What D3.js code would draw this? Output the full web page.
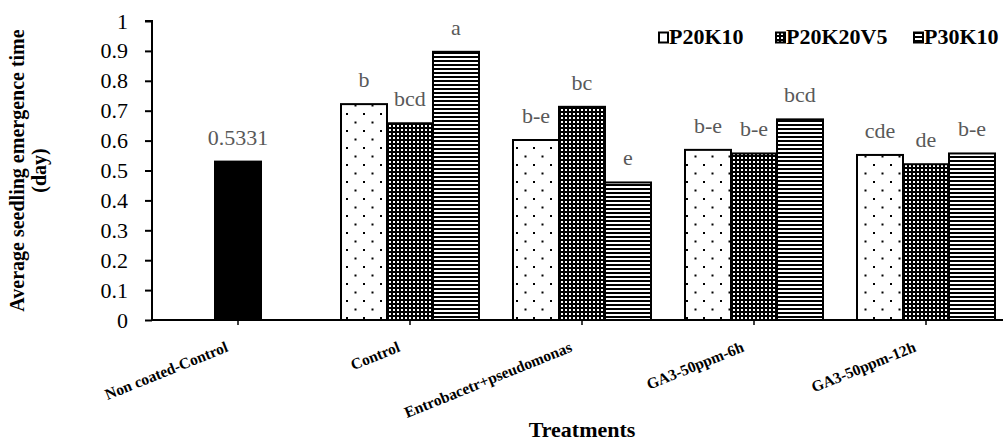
<!DOCTYPE html>
<html>
<head>
<meta charset="utf-8">
<script src="https://cdn.jsdelivr.net/npm/d3@7"></script>
<style>
  html, body { margin: 0; padding: 0; background: #fff; overflow: hidden; }
  svg { display: block; }
  text { font-family: "Liberation Serif", "Times New Roman", serif; }
</style>
</head>
<body>
<svg id="chart" width="1003" height="441"></svg>
<script>
// ---------- DATA ----------
const categories = ["Non coated-Control", "Control", "Entrobacetr+pseudomonas", "GA3-50ppm-6h", "GA3-50ppm-12h"];
const seriesNames = ["P20K10", "P20K20V5", "P30K10"];
const nonCoatedValue = 0.5331;
const nonCoatedLabel = "0.5331";
const p20k10   = [null, 0.722, 0.602, 0.569, 0.552];
const p20k20v5 = [null, 0.658, 0.713, 0.557, 0.521];
const p30k10   = [null, 0.897, 0.460, 0.671, 0.557];
const lettersP20K10   = [null, "b",   "b-e", "b-e", "cde"];
const lettersP20K20V5 = [null, "bcd", "bc",  "b-e", "de"];
const lettersP30K10   = [null, "a",   "e",   "bcd", "b-e"];
const yTicks = [0, 0.1, 0.2, 0.3, 0.4, 0.5, 0.6, 0.7, 0.8, 0.9, 1];
const yTickLabels = ["0", "0.1", "0.2", "0.3", "0.4", "0.5", "0.6", "0.7", "0.8", "0.9", "1"];
const yTitleLines = ["Average seedling emergence time", "(day)"];
const xTitle = "Treatments";

// ---------- LAYOUT ----------
const svg = d3.select("#chart");
const plot = { left: 152, right: 1012, top: 21, bottom: 320 };

const x0 = d3.scaleBand().domain(categories).range([plot.left, plot.right]).paddingInner(0).paddingOuter(0);
const x1 = d3.scaleBand().domain(seriesNames).range([17, x0.bandwidth() - 17]).padding(0);
const y = d3.scaleLinear().domain([0, 1]).range([plot.bottom, plot.top]);

// ---------- PATTERNS ----------
const defs = svg.append("defs");
const pDots = defs.append("pattern").attr("id", "pat-dots")
  .attr("patternUnits", "userSpaceOnUse").attr("width", 17).attr("height", 17);
pDots.append("rect").attr("width", 17).attr("height", 17).attr("fill", "#fff");
pDots.append("rect").attr("x", 6).attr("y", 11).attr("width", 2).attr("height", 2).attr("fill", "#000");
pDots.append("rect").attr("x", 14.5).attr("y", 2.5).attr("width", 2).attr("height", 2).attr("fill", "#000");

const pGrid = defs.append("pattern").attr("id", "pat-grid")
  .attr("patternUnits", "userSpaceOnUse").attr("width", 4).attr("height", 4);
pGrid.append("rect").attr("width", 4).attr("height", 4).attr("fill", "#000");
pGrid.append("rect").attr("x", 1).attr("y", 1).attr("width", 2).attr("height", 2).attr("fill", "#fff");

const pLines = defs.append("pattern").attr("id", "pat-lines")
  .attr("patternUnits", "userSpaceOnUse").attr("width", 4).attr("height", 4);
pLines.append("rect").attr("width", 4).attr("height", 4).attr("fill", "#fff");
pLines.append("rect").attr("y", 0).attr("width", 4).attr("height", 2).attr("fill", "#000");

const fills = { "P20K10": "url(#pat-dots)", "P20K20V5": "url(#pat-grid)", "P30K10": "url(#pat-lines)" };
const legendFills = { "P20K10": "#fff", "P20K20V5": "url(#pat-grid)", "P30K10": "url(#pat-lines)" };

// ---------- BARS ----------
const seriesValues = { "P20K10": p20k10, "P20K20V5": p20k20v5, "P30K10": p30k10 };
const seriesLetters = { "P20K10": lettersP20K10, "P20K20V5": lettersP20K20V5, "P30K10": lettersP30K10 };

const barData = [];
seriesNames.forEach(s => {
  categories.forEach((c, i) => {
    if (seriesValues[s][i] != null) barData.push({ cat: c, series: s, value: seriesValues[s][i], label: seriesLetters[s][i] });
  });
});

const gBars = svg.append("g");
gBars.selectAll("rect.bar").data(barData).enter().append("rect")
  .attr("class", "bar")
  .attr("x", d => x0(d.cat) + x1(d.series))
  .attr("y", d => y(d.value))
  .attr("width", x1.bandwidth())
  .attr("height", d => y(0) - y(d.value))
  .attr("fill", d => fills[d.series])
  .attr("stroke", "#000")
  .attr("stroke-width", 2);

// single black bar (non coated control) in middle slot
gBars.append("rect")
  .attr("x", x0(categories[0]) + x1("P20K20V5") - 1)
  .attr("y", y(nonCoatedValue))
  .attr("width", x1.bandwidth() + 2)
  .attr("height", y(0) - y(nonCoatedValue))
  .attr("fill", "#000");

// ---------- LABELS ----------
const gLab = svg.append("g").attr("fill", "#595959").attr("font-size", "22px").attr("text-anchor", "middle");
gLab.selectAll("text").data(barData).enter().append("text")
  .attr("x", d => x0(d.cat) + x1(d.series) + x1.bandwidth() / 2)
  .attr("y", d => y(d.value) - 17)
  .text(d => d.label);
gLab.append("text")
  .attr("x", x0(categories[0]) + x0.bandwidth() / 2)
  .attr("y", y(nonCoatedValue) - 16)
  .text(nonCoatedLabel);

// ---------- AXES ----------
const yAxis = d3.axisLeft(y).tickValues(yTicks).tickFormat((d, i) => yTickLabels[i]).tickSize(7).tickPadding(17);
const gy = svg.append("g").attr("transform", `translate(${plot.left},0)`).call(yAxis);
gy.select(".domain").attr("stroke", "#000").attr("stroke-width", 2).attr("d", `M-7,${plot.top}H0V${plot.bottom}`);
gy.selectAll(".tick line").attr("stroke", "#000").attr("stroke-width", 2);
gy.selectAll(".tick text").attr("font-size", "22px").attr("fill", "#000")
  .attr("font-family", "'Liberation Serif', 'Times New Roman', serif");

const xAxis = d3.axisBottom(x0).tickSize(5).tickFormat("");
const gx = svg.append("g").attr("transform", `translate(0,${plot.bottom})`).call(xAxis);
gx.select(".domain").attr("stroke", "#000").attr("stroke-width", 2).attr("d", `M${plot.left},0H${plot.right}`);
gx.selectAll(".tick line").attr("stroke", "#000").attr("stroke-width", 1.5);

// rotated category labels
svg.append("g").selectAll("text").data(categories).enter().append("text")
  .attr("transform", d => `translate(${x0(d) + x0.bandwidth() / 2 - 9},351) rotate(-22)`)
  .attr("text-anchor", "end")
  .attr("font-size", "15.5px")
  .attr("font-weight", "bold")
  .attr("fill", "#000")
  .text(d => d);

// axis titles
svg.append("text")
  .attr("x", (plot.left + plot.right) / 2).attr("y", 437)
  .attr("text-anchor", "middle").attr("font-size", "22px").attr("font-weight", "bold")
  .text(xTitle);

const ymid = (plot.top + plot.bottom) / 2;
svg.append("text")
  .attr("transform", `translate(24,${ymid}) rotate(-90)`)
  .attr("text-anchor", "middle").attr("font-size", "20px").attr("font-weight", "bold")
  .text(yTitleLines[0]);
svg.append("text")
  .attr("transform", `translate(46,${ymid}) rotate(-90)`)
  .attr("text-anchor", "middle").attr("font-size", "20px").attr("font-weight", "bold")
  .text(yTitleLines[1]);

// ---------- LEGEND ----------
const legendX = [659, 776, 914];
const gLeg = svg.append("g");
seriesNames.forEach((s, i) => {
  gLeg.append("rect")
    .attr("x", legendX[i]).attr("y", 32.5).attr("width", 9).attr("height", 10)
    .attr("fill", legendFills[s]).attr("stroke", "#000").attr("stroke-width", 2);
  gLeg.append("text")
    .attr("x", legendX[i] + 10).attr("y", 43.5)
    .attr("font-size", "22px").attr("font-weight", "bold")
    .text(s);
});
</script>
</body>
</html>
